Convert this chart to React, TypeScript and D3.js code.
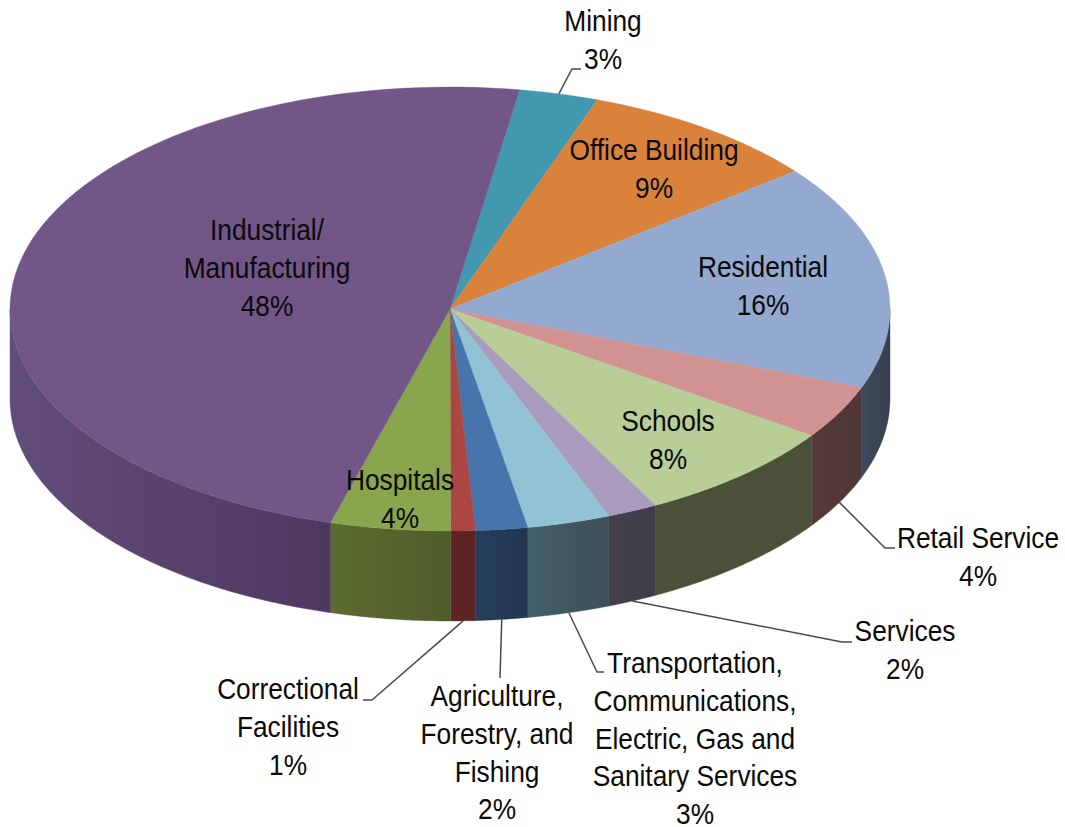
import React from "react";
import * as d3 from "d3";

const categories = ["Mining","Office Building","Residential","Retail Service","Schools","Services","Transportation, Communications, Electric, Gas and Sanitary Services","Agriculture, Forestry, and Fishing","Correctional Facilities","Hospitals","Industrial/ Manufacturing"];
const drawnShares = [2.9,8.9,16.4,3.9,7.6,1.85,3.05,1.9,0.9,4.4,48.1];
const topColors = ["#4298AF","#D8823B","#93A9CF","#D19392","#B9CD96","#A99BBD","#91C3D5","#4674AB","#AA4644","#89A54E","#725688"];
const wallFrom = ["#2b5f6e","#8a5122","#3f4a5c","#543b3b","#4c5039","#443f4c","#44606a","#263e5c","#5f2524","#5b6d30","#614d7b"];
const wallTo = ["#2b5f6e","#8a5122","#383f50","#503636","#4c5039","#403c48","#3c4f58","#22364f","#5c2322","#4f5b2a","#4f385f"];
const labelLines = [
  ["Mining","3%"],["Office Building","9%"],["Residential","16%"],["Retail Service","4%"],["Schools","8%"],["Services","2%"],
  ["Transportation,","Communications,","Electric, Gas and","Sanitary Services","3%"],
  ["Agriculture,","Forestry, and","Fishing","2%"],["Correctional","Facilities","1%"],["Hospitals","4%"],["Industrial/","Manufacturing","48%"],
];
// label block: centre x, first baseline y
const labelPos: [number, number][] = [[603,31],[654,160],[763,277],[978,548],[668,431],[905,641],[695,673],[497,706],[288,699],[400,490],[267,240]];
// leader-line waypoints after the slice anchor (empty = no leader)
const leaders: [number, number][][] = [
  [[572,69],[581,69]],[],[],[[885,548],[895,548]],[],[[842,642],[852,642]],
  [[597,672],[604,672]],[[500,678]],[[372,700],[363,700]],[],[],
];

const W = 1065, H = 827;
const cx = 450, cy = 309, rx = 440, ry = 222, depth = 90;
const LH = 37.8;

const startDeg = 9.1;
const pie = d3.pie<number>().sort(null).startAngle(startDeg * Math.PI / 180).endAngle((startDeg + 360) * Math.PI / 180);
const arcs = pie(drawnShares);
const scaleX = d3.scaleLinear().domain([-1, 1]).range([cx - rx, cx + rx]);
const scaleY = d3.scaleLinear().domain([-1, 1]).range([cy - ry, cy + ry]);
const pt = (t: number, dy = 0): [number, number] => [scaleX(Math.sin(t)), scaleY(-Math.cos(t)) + dy];

function topPath(a: number, b: number) {
  const p = d3.path();
  p.moveTo(cx, cy);
  const n = 90;
  for (let i = 0; i <= n; i++) { const q = pt(a + (b - a) * i / n); p.lineTo(q[0], q[1]); }
  p.closePath();
  return p.toString();
}
function wallSegments(a: number, b: number) {
  const lo = Math.max(a, Math.PI / 2), hi = Math.min(b, 3 * Math.PI / 2);
  return hi > lo ? [lo, hi] : null;
}
function wallPath(lo: number, hi: number) {
  const n = 90;
  const top = d3.range(n + 1).map(i => pt(lo + (hi - lo) * i / n));
  const bot = d3.range(n + 1).map(i => pt(hi - (hi - lo) * i / n, depth));
  return d3.line()([...top, ...bot]) + "Z";
}

export default function App() {
  return (
    <svg width={W} height={H} viewBox={`0 0 ${W} ${H}`} style={{ position: "absolute", left: 0, top: 0, background: "#fff" }}>
      <defs>
        {arcs.map((d, i) => {
          const s = wallSegments(d.startAngle, d.endAngle);
          if (!s) return null;
          const x0 = pt(s[1])[0], x1 = pt(s[0])[0];
          return (
            <linearGradient key={i} id={`w${i}`} gradientUnits="userSpaceOnUse" x1={x0} x2={x1} y1={0} y2={0}>
              <stop offset="0" stopColor={wallFrom[i]} />
              <stop offset="1" stopColor={wallTo[i]} />
            </linearGradient>
          );
        })}
      </defs>
      <g>
        {arcs.map((d, i) => {
          const s = wallSegments(d.startAngle, d.endAngle);
          return s ? <path key={i} d={wallPath(s[0], s[1])} fill={`url(#w${i})`} stroke={`url(#w${i})`} strokeWidth={0.4} /> : null;
        })}
      </g>
      <g>
        {arcs.map((d, i) => (
          <path key={i} d={topPath(d.startAngle, d.endAngle)} fill={topColors[i]} stroke={topColors[i]} strokeWidth={0.4} />
        ))}
      </g>
      <g fill="none" stroke="#4a4a4a" strokeWidth={1.5}>
        {arcs.map((d, i) => {
          if (!leaders[i].length) return null;
          const mid = (d.startAngle + d.endAngle) / 2;
          const start = pt(mid, Math.cos(mid) < 0 ? depth : 0);
          return <path key={i} d={d3.line()([start, ...leaders[i]]) as string} />;
        })}
      </g>
      <g fontFamily="'Liberation Sans', Arial, sans-serif" fontSize={26.3} fill="#0a0a0a" textAnchor="middle">
        {categories.map((c, i) => (
          <g key={c}>
            {labelLines[i].map((l, j) => (
              <text key={j} transform={`translate(${labelPos[i][0]},${labelPos[i][1] + j * LH}) scale(1,1.13)`}>{l}</text>
            ))}
          </g>
        ))}
      </g>
    </svg>
  );
}
